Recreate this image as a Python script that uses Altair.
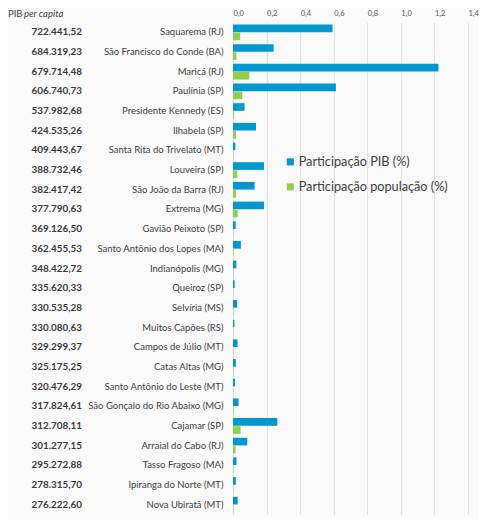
import altair as alt
import pandas as pd

cities = ["Saquarema (RJ)", "São Francisco do Conde (BA)", "Maricá (RJ)", "Paulínia (SP)",
          "Presidente Kennedy (ES)", "Ilhabela (SP)", "Santa Rita do Trivelato (MT)", "Louveira (SP)",
          "São João da Barra (RJ)", "Extrema (MG)", "Gavião Peixoto (SP)", "Santo Antônio dos Lopes (MA)",
          "Indianópolis (MG)", "Queiroz (SP)", "Selvíria (MS)", "Muitos Capões (RS)",
          "Campos de Júlio (MT)", "Catas Altas (MG)", "Santo Antônio do Leste (MT)",
          "São Gonçalo do Rio Abaixo (MG)", "Cajamar (SP)", "Arraial do Cabo (RJ)",
          "Tasso Fragoso (MA)", "Ipiranga do Norte (MT)", "Nova Ubiratã (MT)"]
pib_pc = ["722.441,52", "684.319,23", "679.714,48", "606.740,73", "537.982,68", "424.535,26",
          "409.443,67", "388.732,46", "382.417,42", "377.790,63", "369.126,50", "362.455,53",
          "348.422,72", "335.620,33", "330.535,28", "330.080,63", "329.299,37", "325.175,25",
          "320.476,29", "317.824,61", "312.708,11", "301.277,15", "295.272,88", "278.315,70",
          "276.222,60"]
part_pib = [0.593, 0.242, 1.224, 0.613, 0.069, 0.137, 0.014, 0.185, 0.129, 0.185, 0.016, 0.047,
            0.020, 0.010, 0.025, 0.008, 0.027, 0.017, 0.012, 0.033, 0.264, 0.085, 0.021, 0.017, 0.028]
part_pop = [0.043, 0.020, 0.097, 0.055, 0.006, 0.018, 0.002, 0.026, 0.018, 0.028, 0.002, 0.004,
            0.003, 0.001, 0.003, 0.001, 0.003, 0.002, 0.002, 0.004, 0.045, 0.015, 0.002, 0.002, 0.003]
series = ["Participação PIB (%)", "Participação população (%)"]
colors = ["#0098cf", "#8fd14f"]

rows = []
for c, a, b in zip(cities, part_pib, part_pop):
    rows.append({"cidade": c, "serie": series[0], "valor": a})
    rows.append({"cidade": c, "serie": series[1], "valor": b})
bars_df = pd.DataFrame(rows)
num_df = pd.DataFrame({"cidade": cities, "pib": pib_pc})

FONT = "Lato"
TXT = "#404040"

yenc = alt.Y("cidade:N", sort=cities, title=None,
             scale=alt.Scale(paddingInner=0.2, paddingOuter=0.1),
             axis=alt.Axis(domain=False, ticks=False, labelPadding=10, labelFontSize=9.5,
                           labelColor=TXT, labelFont=FONT, labelLimit=300))

bars = alt.Chart(bars_df).mark_bar().encode(
    x=alt.X("valor:Q", title=None,
            scale=alt.Scale(domain=[0, 1.4], nice=False),
            axis=alt.Axis(orient="top", values=[0, 0.2, 0.4, 0.6, 0.8, 1.0, 1.2, 1.4],
                          labelExpr="replace(format(datum.value, '.1f'), '.', ',')",
                          labelAlign="left", labelFlush=False,
                          domain=False, ticks=False, labelPadding=5, labelFontSize=7.5,
                          labelColor="#595959", labelFont=FONT, grid=True,
                          gridColor="#e2e2e2", gridWidth=1)),
    y=yenc,
    yOffset=alt.YOffset("serie:N", sort=series, scale=alt.Scale(paddingInner=0.05)),
    color=alt.Color("serie:N", sort=series,
                    scale=alt.Scale(domain=series, range=colors),
                    legend=alt.Legend(title=None, orient="none", legendX=51, legendY=133,
                                      symbolType="square", symbolSize=50, symbolStrokeWidth=0,
                                      labelFontSize=12.7, labelColor=TXT, labelFont=FONT,
                                      rowPadding=11, labelOffset=2)),
)

nums = alt.Chart(num_df).mark_text(align="right", baseline="middle", fontWeight="bold",
                                   fontSize=9.9, color="#3a3a3a", font=FONT).encode(
    x=alt.value(-151),
    y=alt.Y("cidade:N", sort=cities),
    text="pib:N",
)

head1 = alt.Chart(pd.DataFrame({"t": ["PIB"]})).mark_text(
    align="left", baseline="middle", fontSize=9.5, color="#3a3a3a", font=FONT).encode(
    x=alt.value(-225), y=alt.value(-9), text="t:N")
head2 = alt.Chart(pd.DataFrame({"t": ["per capita"]})).mark_text(
    align="left", baseline="middle", fontSize=9.5, fontStyle="italic", color="#3a3a3a", font=FONT).encode(
    x=alt.value(-209), y=alt.value(-9), text="t:N")

chart = alt.layer(bars, nums, head1, head2).properties(
    width=235, height=492,
    padding={"left": 225, "top": 14.5, "right": 11, "bottom": 5},
    autosize=alt.AutoSizeParams(type="none"),
    background="#fafafa",
).configure_view(stroke=None)

chart.save("out.html", embed_options={"renderer": "svg", "actions": False})
